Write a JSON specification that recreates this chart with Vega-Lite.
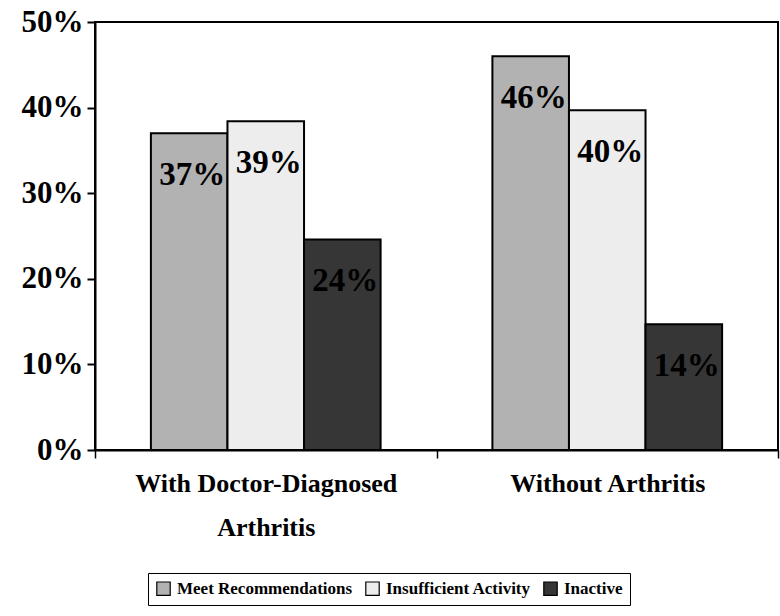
{
  "$schema": "https://vega.github.io/schema/vega-lite/v6.json",
  "width": 683,
  "height": 428,
  "autosize": {"type": "none"},
  "padding": {"left": 95, "top": 22, "right": 2, "bottom": 166},
  "background": "white",
  "config": {
    "view": {"stroke": "black", "strokeWidth": 2},
    "font": "Liberation Serif",
    "axis": {"grid": false, "domainColor": "black", "tickColor": "black", "labelColor": "black", "labelFont": "Liberation Serif", "labelFontWeight": "bold", "title": null, "labelLimit": 0},
    "legend": {"labelFont": "Liberation Serif", "labelLimit": 0}
  },
  "data": {
    "values": [
      {"group": "With Doctor-Diagnosed Arthritis", "category": "Meet Recommendations", "value": 0.370, "label": "37%"},
      {"group": "With Doctor-Diagnosed Arthritis", "category": "Insufficient Activity", "value": 0.384, "label": "39%"},
      {"group": "With Doctor-Diagnosed Arthritis", "category": "Inactive", "value": 0.246, "label": "24%"},
      {"group": "Without Arthritis", "category": "Meet Recommendations", "value": 0.460, "label": "46%"},
      {"group": "Without Arthritis", "category": "Insufficient Activity", "value": 0.397, "label": "40%"},
      {"group": "Without Arthritis", "category": "Inactive", "value": 0.147, "label": "14%"}
    ]
  },
  "encoding": {
    "x": {
      "field": "group", "type": "nominal", "sort": null,
      "scale": {"paddingInner": 0, "paddingOuter": 0},
      "axis": {
        "labelAngle": 0, "labelFontSize": 26, "labelPadding": 12, "labelLineHeight": 44, "labelLimit": 0,
        "domainWidth": 2, "tickBand": "extent", "tickSize": 8, "tickWidth": 1.5,
        "labelExpr": "datum.label == 'With Doctor-Diagnosed Arthritis' ? ['With Doctor-Diagnosed', 'Arthritis'] : datum.label"
      }
    },
    "xOffset": {
      "field": "category", "type": "nominal",
      "sort": ["Meet Recommendations", "Insufficient Activity", "Inactive"],
      "scale": {"paddingInner": 0, "paddingOuter": 0.73}
    },
    "y": {
      "field": "value", "type": "quantitative",
      "scale": {"domain": [0, 0.5], "nice": false},
      "axis": {"values": [0, 0.1, 0.2, 0.3, 0.4, 0.5], "format": ".0%", "labelFontSize": 31, "labelPadding": 4, "tickSize": 8, "tickWidth": 2, "domainWidth": 2}
    }
  },
  "layer": [
    {
      "mark": {"type": "bar", "color": "black", "xOffset": 2, "yOffset": 1}
    },
    {
      "mark": {"type": "bar", "stroke": "black", "strokeWidth": 2},
      "encoding": {
        "color": {
          "field": "category", "type": "nominal",
          "sort": ["Meet Recommendations", "Insufficient Activity", "Inactive"],
          "scale": {"domain": ["Meet Recommendations", "Insufficient Activity", "Inactive"], "range": ["#b2b2b2", "#ededed", "#363636"]},
          "legend": {
            "title": null, "orient": "none", "direction": "horizontal", "legendX": 53, "legendY": 551,
            "symbolType": "square", "symbolSize": 180, "symbolStrokeColor": "black", "symbolStrokeWidth": 1.2,
            "labelFont": "Liberation Serif", "labelFontWeight": "bold", "labelFontSize": 17, "labelColor": "black", "labelLimit": 0,
            "strokeColor": "black", "padding": 7, "columnPadding": 10, "symbolOffset": 0, "labelOffset": 5
          }
        }
      }
    },
    {
      "mark": {"type": "text", "baseline": "middle", "align": "center", "dy": 42, "dx": 3, "fontSize": 33, "fontWeight": "bold", "font": "Liberation Serif", "color": "black"},
      "encoding": {"text": {"field": "label"}}
    }
  ]
}
